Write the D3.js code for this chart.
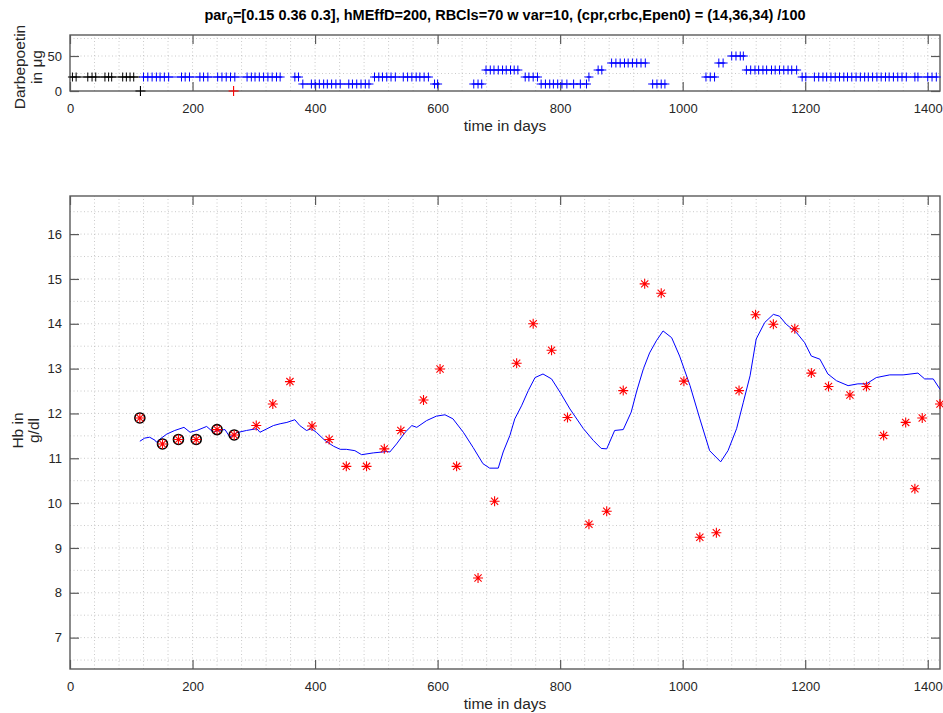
<!DOCTYPE html>
<html>
<head>
<meta charset="utf-8">
<script src="https://cdn.jsdelivr.net/npm/d3@7"></script>
<style>
body { margin: 0; background: #fff; }
text { font-family: "Liberation Sans", Arial, sans-serif; fill: #262626; }
</style>
</head>
<body>
<svg width="943" height="713"></svg>
<script>
// ---- data ----
// top panel: darbepoetin doses (ug)
var blackPeriod = [0, 115];
var blackDays = [4, 10, 29, 36, 42, 57, 63, 68, 86, 92, 98, 104];
var blackDose = [20, 20, 20, 20, 20, 20, 20, 20, 20, 20, 20, 20];
var blackZeroDay = 115;
var redZeroDay = 267;

var blueDays = [120, 127, 134, 141, 147, 154, 161, 182, 188, 195, 212, 218, 225, 241, 248, 255, 262, 269,
  289, 296, 302, 309, 316, 323, 330, 337, 343,
  367, 373, 380, 394, 400, 407, 414, 420, 427, 434, 441, 455, 461, 468, 475, 482, 488,
  497, 504, 510, 517, 524, 531, 544, 551, 558, 565, 571, 578, 585, 595, 600,
  659, 666, 672, 679, 686, 692, 699, 706, 712, 719, 725, 731, 743, 749, 756, 763,
  769, 776, 783, 789, 796, 803, 811, 822, 833, 843, 847, 862, 868,
  884, 891, 898, 905, 911, 918, 925, 932, 939, 951, 958, 965, 971,
  1038, 1045, 1052, 1059, 1066, 1080, 1087, 1094, 1099,
  1104, 1111, 1118, 1124, 1131, 1137, 1145, 1151, 1158, 1165, 1172, 1178, 1186,
  1195, 1201, 1215, 1222, 1229, 1235, 1242, 1249, 1256, 1263, 1269, 1276, 1283, 1290, 1297,
  1303, 1310, 1317, 1324, 1331, 1337, 1344, 1351, 1358, 1365, 1379, 1384, 1400, 1407, 1414];
var blueDose = [20, 20, 20, 20, 20, 20, 20, 20, 20, 20, 20, 20, 20, 20, 20, 20, 20, 20,
  20, 20, 20, 20, 20, 20, 20, 20, 20,
  20, 20, 10, 10, 10, 10, 10, 10, 10, 10, 10, 10, 10, 10, 10, 10, 10,
  20, 20, 20, 20, 20, 20, 20, 20, 20, 20, 20, 20, 20, 10, 10,
  10, 10, 10, 30, 30, 30, 30, 30, 30, 30, 30, 30, 20, 20, 20, 20,
  10, 10, 10, 10, 10, 10, 10, 10, 10, 10, 20, 30, 30,
  40, 40, 40, 40, 40, 40, 40, 40, 40, 10, 10, 10, 10,
  20, 20, 20, 40, 40, 50, 50, 50, 50,
  30, 30, 30, 30, 30, 30, 30, 30, 30, 30, 30, 30, 30,
  20, 20, 20, 20, 20, 20, 20, 20, 20, 20, 20, 20, 20, 20, 20,
  20, 20, 20, 20, 20, 20, 20, 20, 20, 20, 20, 20, 20, 20, 20];

// bottom panel: measured Hb (g/dl), first nFit are circled
var hbDays = [114, 151, 177, 206, 240, 268, 304, 331, 359, 395, 423, 451, 484, 513, 540, 577, 604, 631,
  666, 693, 729, 756, 786, 812, 847, 876, 903, 938, 965, 1002, 1028, 1055, 1092, 1119, 1148, 1183,
  1210, 1238, 1273, 1300, 1328, 1364, 1379, 1391, 1420];
var hbValues = [11.90, 11.32, 11.42, 11.42, 11.64, 11.52, 11.73, 12.21, 12.71, 11.72, 11.42, 10.82, 10.82, 11.21, 11.62, 12.30, 12.99, 10.82,
  8.33, 10.04, 13.12, 14.00, 13.41, 11.91, 9.53, 9.82, 12.51, 14.89, 14.68, 12.72, 9.24, 9.34, 12.51, 14.20, 13.99, 13.89,
  12.90, 12.60, 12.41, 12.60, 11.51, 11.80, 10.32, 11.90, 12.21];
var nFit = 6;

// model Hb curve
var modelDays = [114, 122, 130, 139, 141, 147, 158, 171, 186, 196, 207, 223, 234, 242, 253, 261, 272, 288, 305, 310,
  332, 343, 354, 367, 375, 386, 394, 402, 416, 430, 441, 451, 465, 476, 495, 517, 522, 533, 547, 558, 566,
  582, 598, 612, 625, 642, 658, 674, 685, 699, 707, 718, 726, 737, 748, 759, 772, 786, 800, 816, 838, 854,
  867, 876, 889, 903, 916, 925, 936, 946, 957, 968, 982, 995, 1012, 1028, 1044, 1062, 1074, 1088, 1099,
  1110, 1120, 1134, 1148, 1158, 1169, 1186, 1199, 1210, 1224, 1237, 1251, 1270, 1286, 1300, 1316, 1338,
  1360, 1384, 1395, 1409, 1420];
var modelHb = [11.38, 11.45, 11.47, 11.40, 11.36, 11.43, 11.54, 11.62, 11.69, 11.58, 11.62, 11.71, 11.58, 11.62, 11.64, 11.47, 11.57, 11.62, 11.66, 11.58,
  11.73, 11.77, 11.80, 11.86, 11.73, 11.62, 11.66, 11.58, 11.40, 11.27, 11.20, 11.20, 11.17, 11.08, 11.12, 11.15, 11.14, 11.32, 11.58, 11.73, 11.69,
  11.84, 11.94, 11.97, 11.88, 11.58, 11.24, 10.88, 10.78, 10.78, 11.14, 11.51, 11.88, 12.17, 12.51, 12.80, 12.88, 12.77, 12.47, 12.10, 11.66, 11.40,
  11.22, 11.21, 11.62, 11.64, 12.03, 12.50, 13.00, 13.35, 13.62, 13.84, 13.69, 13.28, 12.62, 11.88, 11.17, 10.92, 11.17, 11.66, 12.25,
  12.84, 13.66, 14.03, 14.21, 14.17, 13.99, 13.80, 13.58, 13.28, 13.21, 12.88, 12.73, 12.62, 12.66, 12.66, 12.80, 12.86,
  12.86, 12.90, 12.77, 12.77, 12.54];

var xTicks = [0, 200, 400, 600, 800, 1000, 1200, 1400];
var topYTicks = [0, 50];
var botYTicks = [7, 8, 9, 10, 11, 12, 13, 14, 15, 16];

// ---- layout ----
var svg = d3.select("svg");
var axisColor = "#5a5a5a";

var x = d3.scaleLinear().domain([0, 1420]).range([70, 940]);
var yTop = d3.scaleLinear().domain([0, 80]).range([91, 35]);
var yBot = d3.scaleLinear().domain([6.3, 16.85]).range([669, 196]);

function plusPath(r) { return "M" + (-r) + ",0h" + (2 * r) + "M0," + (-r) + "v" + (2 * r); }
function starPath(r) {
  var a = r * 0.72;
  return plusPath(r) + "M" + (-a) + "," + (-a) + "L" + a + "," + a + "M" + (-a) + "," + a + "L" + a + "," + (-a);
}

function drawFrame(y, yTicks, yGridStep, yLabel) {
  var x0 = x.range()[0], x1 = x.range()[1];
  var yb = y.range()[0], yt = y.range()[1];
  var g = svg.append("g");

  // dotted grid (major + minor)
  var gx = d3.range(40, 1420, 40);
  g.selectAll(".gx").data(gx).enter().append("line")
    .attr("x1", d => x(d)).attr("x2", d => x(d))
    .attr("y1", yb).attr("y2", yt)
    .attr("stroke", "#bdbdbd").attr("stroke-width", 0.8).attr("stroke-dasharray", "1,2.5");
  var gy = d3.range(y.domain()[0] - (y.domain()[0] % yGridStep) + yGridStep, y.domain()[1], yGridStep)
    .filter(d => d > y.domain()[0]);
  g.selectAll(".gy").data(gy).enter().append("line")
    .attr("x1", x0).attr("x2", x1)
    .attr("y1", d => y(d)).attr("y2", d => y(d))
    .attr("stroke", "#bdbdbd").attr("stroke-width", 0.8).attr("stroke-dasharray", "1,2.5");

  // axes, ticks inward
  var ax = g.append("g").attr("transform", "translate(0," + yb + ")")
    .call(d3.axisBottom(x).tickValues(xTicks).tickSizeInner(-9).tickSizeOuter(0).tickPadding(13).tickFormat(d3.format("d")));
  var axT = g.append("g").attr("transform", "translate(0," + yt + ")")
    .call(d3.axisTop(x).tickValues(xTicks).tickSizeInner(-9).tickSizeOuter(0).tickFormat(""));
  var ay = g.append("g").attr("transform", "translate(" + x0 + ",0)")
    .call(d3.axisLeft(y).tickValues(yTicks).tickSizeInner(-9).tickSizeOuter(0).tickPadding(8));
  var ayR = g.append("g").attr("transform", "translate(" + x1 + ",0)")
    .call(d3.axisRight(y).tickValues(yTicks).tickSizeInner(-9).tickSizeOuter(0).tickFormat(""));
  [ax, axT, ay, ayR].forEach(function (a) {
    a.select(".domain").remove();
    a.selectAll("line").attr("stroke", axisColor).attr("stroke-width", 1.2);
    a.selectAll("text").attr("font-size", 13).attr("fill", "#262626")
      .style("font-family", "'Liberation Sans', Arial, sans-serif");
  });
  g.append("rect").attr("x", x0).attr("y", yt).attr("width", x1 - x0).attr("height", yb - yt)
    .attr("fill", "none").attr("stroke", axisColor).attr("stroke-width", 1.4);

  g.append("text").attr("x", (x0 + x1) / 2).attr("y", yb + 40)
    .attr("text-anchor", "middle").attr("font-size", 15.5).text("time in days");

  yLabel.lines.forEach(function (t, i) {
    g.append("text")
      .attr("transform", "translate(" + yLabel.xs[i] + "," + ((yb + yt) / 2 + yLabel.dy) + ") rotate(-90)")
      .attr("text-anchor", "middle").attr("dy", "0.35em").attr("font-size", 15.5).text(t);
  });
  return g;
}

// ---- title ----
var title = svg.append("text").attr("x", 505).attr("y", 20).attr("text-anchor", "middle")
  .attr("font-size", 14.5).attr("font-weight", "bold").style("fill", "#000");
title.append("tspan").text("par");
title.append("tspan").attr("font-size", 10.5).attr("dy", 4).text("0");
title.append("tspan").attr("dy", -4).text("=[0.15 0.36 0.3], hMEffD=200, RBCls=70 w var=10, (cpr,crbc,Epen0) = (14,36,34) /100");

// ---- top panel ----
drawFrame(yTop, topYTicks, 25, { lines: ["Darbepoetin", "in \u03bcg"], xs: [20, 37], dy: 4 });

// black pre-period line and markers
svg.append("line").attr("x1", x(blackPeriod[0])).attr("x2", x(blackPeriod[1]))
  .attr("y1", yTop(20)).attr("y2", yTop(20)).attr("stroke", "#000").attr("stroke-width", 1);
svg.selectAll(".bk").data(blackDays).enter().append("path")
  .attr("transform", (d, i) => "translate(" + x(d) + "," + yTop(blackDose[i]) + ")")
  .attr("d", plusPath(4.5)).attr("stroke", "#000").attr("stroke-width", 1);

// blue dose runs: a new run starts when the level changes or the gap is long
var runs = [];
blueDays.forEach(function (d, i) {
  var last = runs[runs.length - 1];
  if (!last || last.dose !== blueDose[i] || d - last.end > 22) runs.push({ start: d, end: d, dose: blueDose[i] });
  else last.end = d;
});
svg.selectAll(".run").data(runs).enter().append("line")
  .attr("x1", d => x(d.start - 3.5)).attr("x2", d => x(d.end + 3.5))
  .attr("y1", d => yTop(d.dose)).attr("y2", d => yTop(d.dose))
  .attr("stroke", "#0000ff").attr("stroke-width", 1);
svg.selectAll(".bl").data(blueDays).enter().append("path")
  .attr("transform", (d, i) => "translate(" + x(d) + "," + yTop(blueDose[i]) + ")")
  .attr("d", plusPath(4.5)).attr("stroke", "#0000ff").attr("stroke-width", 1);

svg.append("path").attr("transform", "translate(" + x(blackZeroDay) + "," + yTop(0) + ")")
  .attr("d", plusPath(5)).attr("stroke", "#000").attr("stroke-width", 1.1);
svg.append("path").attr("transform", "translate(" + x(redZeroDay) + "," + yTop(0) + ")")
  .attr("d", plusPath(5)).attr("stroke", "#ff0000").attr("stroke-width", 1.1);

// ---- bottom panel ----
drawFrame(yBot, botYTicks, 0.5, { lines: ["Hb in", "g/dl"], xs: [18, 34], dy: -2 });

var line = d3.line().x(d => x(d[0])).y(d => yBot(d[1]));
svg.append("path").datum(d3.zip(modelDays, modelHb))
  .attr("d", line).attr("fill", "none").attr("stroke", "#0000ff").attr("stroke-width", 1);

svg.selectAll(".fit").data(hbDays.slice(0, nFit)).enter().append("circle")
  .attr("cx", d => x(d)).attr("cy", (d, i) => yBot(hbValues[i]))
  .attr("r", 5).attr("fill", "none").attr("stroke", "#000").attr("stroke-width", 1.6);

svg.selectAll(".hb").data(hbDays).enter().append("path")
  .attr("transform", (d, i) => "translate(" + x(d) + "," + yBot(hbValues[i]) + ")")
  .attr("d", starPath(5)).attr("stroke", "#ff0000").attr("stroke-width", 1.1);
</script>
</body>
</html>
